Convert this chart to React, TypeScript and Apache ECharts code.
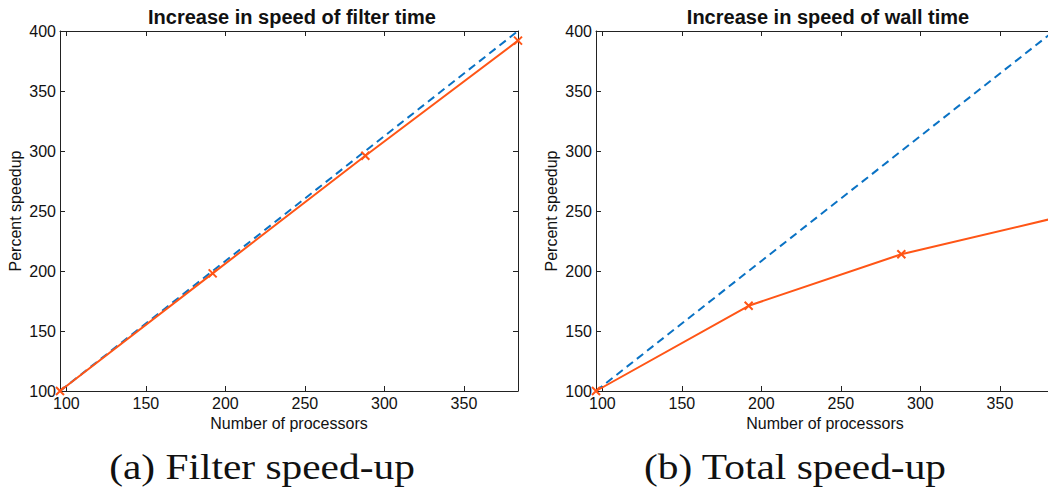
import React, { useEffect, useRef } from "react";
import * as echarts from "echarts";

const processors = [96, 192, 288, 384];
const idealSpeedup = [100, 200, 300, 400];
const filterSpeedup = [100, 198, 296, 392];
const wallSpeedup = [100, 171, 214, 244];
const xTicks = [100, 150, 200, 250, 300, 350];
const titles = ["Increase in speed of filter time", "Increase in speed of wall time"];
const captions = ["(a) Filter speed-up", "(b) Total speed-up"];

const BLUE = "#0a72c4";
const ORANGE = "#ff5516";
const FONT = "'Liberation Sans', Arial, sans-serif";

export default function App() {
  const ref = useRef<HTMLDivElement>(null);
  useEffect(() => {
    if (!ref.current) return;
    const chart = echarts.init(ref.current, null, { renderer: "svg" });
    const grids = [
      { left: 60, top: 31, width: 458, height: 360 },
      { left: 596, top: 31, width: 458, height: 360 },
    ];
    const xAxes: any[] = [];
    const yAxes: any[] = [];
    grids.forEach((_, i) => {
      xAxes.push({
        type: "value",
        gridIndex: i,
        min: 96,
        max: 384,
        position: "bottom",
        name: "Number of processors",
        nameLocation: "middle",
        nameGap: 19,
        nameTextStyle: { fontFamily: FONT, fontSize: 16, color: "#111", verticalAlign: "top" },
        axisLine: { show: true, onZero: false, lineStyle: { color: "#222", width: 1 } },
        axisTick: { show: true, inside: true, length: 5, customValues: xTicks, lineStyle: { color: "#222" } },
        axisLabel: { show: true, customValues: xTicks, margin: 4, fontFamily: FONT, fontSize: 16, color: "#111" },
        splitLine: { show: false },
      });
      xAxes.push({
        type: "value",
        gridIndex: i,
        min: 96,
        max: 384,
        position: "top",
        axisLine: { show: true, onZero: false, lineStyle: { color: "#222", width: 1 } },
        axisTick: { show: true, inside: true, length: 5, customValues: xTicks, lineStyle: { color: "#222" } },
        axisLabel: { show: false },
        splitLine: { show: false },
      });
      yAxes.push({
        type: "value",
        gridIndex: i,
        min: 100,
        max: 400,
        interval: 50,
        position: "left",
        name: "Percent speedup",
        nameLocation: "middle",
        nameGap: 37,
        nameTextStyle: { fontFamily: FONT, fontSize: 16, color: "#111" },
        axisLine: { show: true, onZero: false, lineStyle: { color: "#222", width: 1 } },
        axisTick: { show: true, inside: true, length: 5, lineStyle: { color: "#222" } },
        axisLabel: { margin: 4, fontFamily: FONT, fontSize: 16, color: "#111" },
        splitLine: { show: false },
      });
      yAxes.push({
        type: "value",
        gridIndex: i,
        min: 100,
        max: 400,
        interval: 50,
        position: "right",
        axisLine: { show: true, onZero: false, lineStyle: { color: "#222", width: 1 } },
        axisTick: { show: true, inside: true, length: 5, lineStyle: { color: "#222" } },
        axisLabel: { show: false },
        splitLine: { show: false },
      });
    });
    const measured = [filterSpeedup, wallSpeedup];
    const series: any[] = [];
    grids.forEach((_, i) => {
      series.push({
        type: "line",
        xAxisIndex: i * 2,
        yAxisIndex: i * 2,
        data: processors.map((p, k) => [p, idealSpeedup[k]]),
        symbol: "none",
        lineStyle: { color: BLUE, width: 2, type: [8, 5] },
        clip: false,
        z: 2,
      });
      series.push({
        type: "line",
        xAxisIndex: i * 2,
        yAxisIndex: i * 2,
        data: processors.map((p, k) => [p, measured[i][k]]),
        symbol: "path://M0,0L10,10M10,0L0,10",
        symbolSize: 8,
        itemStyle: { color: ORANGE, borderColor: ORANGE, borderWidth: 2 },
        lineStyle: { color: ORANGE, width: 2 },
        clip: false,
        z: 3,
      });
    });
    const captionCenters = [262, 795];
    chart.setOption({
      animation: false,
      backgroundColor: "#fff",
      title: grids.map((g, i) => ({
        text: titles[i],
        left: g.left + g.width / 2 - 2,
        top: 2,
        textAlign: "center",
        textStyle: { fontFamily: FONT, fontSize: 20, fontWeight: "bold", color: "#111" },
      })),
      grid: grids,
      xAxis: xAxes,
      yAxis: yAxes,
      series,
      graphic: captions.map((c, i) => ({
        type: "text",
        x: captionCenters[i],
        y: 484,
        scaleX: 1.15,
        style: {
          text: c,
          fontFamily: "'Liberation Serif', serif",
          fontSize: 36,
          fill: "#111",
          align: "center",
          verticalAlign: "bottom",
        },
      })),
    });
    return () => chart.dispose();
  }, []);
  return (
    <div style={{ position: "fixed", left: 0, top: 0, width: 1048, height: 492, overflow: "hidden", background: "#fff" }}>
      <div ref={ref} style={{ width: 1080, height: 492 }} />
    </div>
  );
}
